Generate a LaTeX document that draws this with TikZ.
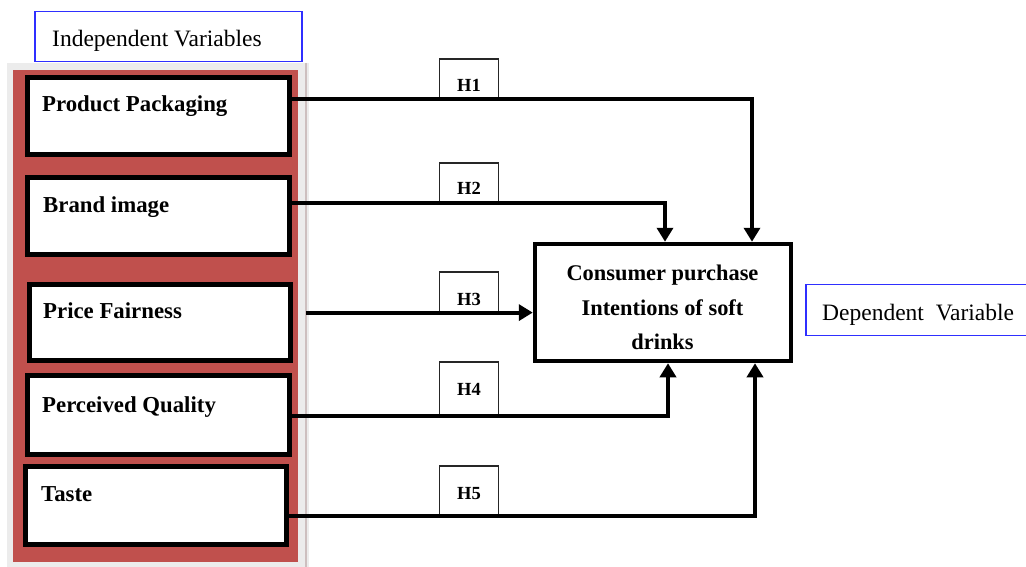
\documentclass[tikz,border=0pt]{standalone}
\usepackage{fontspec}
\setmainfont{Liberation Serif}
\usetikzlibrary{arrows.meta,calc}
\definecolor{panelred}{HTML}{C0504D}
\definecolor{framegray}{HTML}{ECECEC}
\definecolor{edgegray}{HTML}{CDBFBF}
\definecolor{capblue}{HTML}{2F2FFF}
\begin{document}
\begin{tikzpicture}[x=1pt,y=-1pt,
  varbox/.style={draw=black,line width=5pt,fill=white,inner sep=0pt,minimum width=262pt},
  vartext/.style={font=\fontsize{22.8}{26}\selectfont\bfseries,anchor=base west,inner sep=0pt},
  depbox/.style={draw=black,line width=4.5pt,fill=white,inner sep=0pt},
  deptext/.style={font=\fontsize{22.4}{26}\selectfont\bfseries,anchor=base,inner sep=0pt},
  hbox/.style={draw=black!85,line width=1.2pt,fill=white,inner sep=0pt,minimum width=59pt},
  htext/.style={font=\fontsize{18.5}{22}\selectfont\bfseries,anchor=base,inner sep=0pt},
  conn/.style={line width=4pt,-{Triangle[length=14pt,width=16pt]}},
  capbox/.style={draw=capblue,line width=1.8pt,fill=white,inner sep=0pt},
  captext/.style={font=\fontsize{23.5}{28}\selectfont,anchor=base west,inner sep=0pt}]

\useasboundingbox (0,0) rectangle (1026,567);

% panel holding the independent variables
\fill[framegray] (7,63) rectangle (309,567);
\fill[panelred] (13,70) rectangle (298,562);
\draw[edgegray,line width=2pt] (306,63) -- (306,567);

% captions
\node[capbox,minimum width=267pt,minimum height=50pt] (ivbox) at (168.5,36.5) {};
\node[captext] (ivtext) at (52,47) {Independent Variables};
\node[capbox,minimum width=226pt,minimum height=51pt] (dvbox) at (919,310) {};
\node[captext] (dvtext) at (822,320) {Dependent\ \ Variable};

% independent variable boxes
\node[varbox,minimum height=77pt] (pp) at (158.5,116) {};
\node[varbox,minimum height=77pt] (bi) at (158.5,216) {};
\node[varbox,minimum width=261pt,minimum height=76pt] (pf) at (160,322.5) {};
\node[varbox,minimum height=79pt] (pq) at (158.5,415) {};
\node[varbox,minimum width=261pt,minimum height=78pt] (ta) at (156,505.5) {};

\node[vartext] (pptext) at (42,112) {Product Packaging};
\node[vartext] (bitext) at (43,212) {Brand image};
\node[vartext] (pftext) at (43,318) {Price Fairness};
\node[vartext] (pqtext) at (42,412) {Perceived Quality};
\node[vartext] (tatext) at (41,501) {Taste};

% dependent variable box
\node[depbox,minimum width=256pt,minimum height=117pt] (cp) at (663,302.5) {};
\node[deptext] (cp1) at (662.5,280) {Consumer purchase};
\node[deptext] (cp2) at (662.5,315) {Intentions of soft};
\node[deptext] (cp3) at (662.5,349) {drinks};

% hypothesis labels
\node[hbox,minimum height=39pt] (h1box) at (469,78.5) {};
\node[hbox,minimum height=39pt] (h2box) at (469,182.5) {};
\node[hbox,minimum height=40pt] (h3box) at (469,292) {};
\node[hbox,minimum height=53pt] (h4box) at (469,388.5) {};
\node[hbox,minimum height=49pt] (h5box) at (469,490.5) {};

% hypothesised paths
\draw[conn] (pp.east |- h1box.south) -| ($(cp.north)+(89,0)$);
\draw[conn] (bi.east |- h2box.south) -| ($(cp.north)+(2,0)$);
\draw[conn] ($(pf.east |- h3box.south)+(13,0)$) -- (cp.west |- h3box.south);
\draw[conn] (pq.east |- h4box.south) -| ($(cp.south)+(5,0)$);
\draw[conn] (ta.east |- h5box.south) -| ($(cp.south)+(92,0)$);

\node[htext] (h1) at (469,92) {H1};
\node[htext] (h2) at (469,195) {H2};
\node[htext] (h3) at (469,305) {H3};
\node[htext] (h4) at (469,395) {H4};
\node[htext] (h5) at (469,499) {H5};
\end{tikzpicture}
\end{document}
